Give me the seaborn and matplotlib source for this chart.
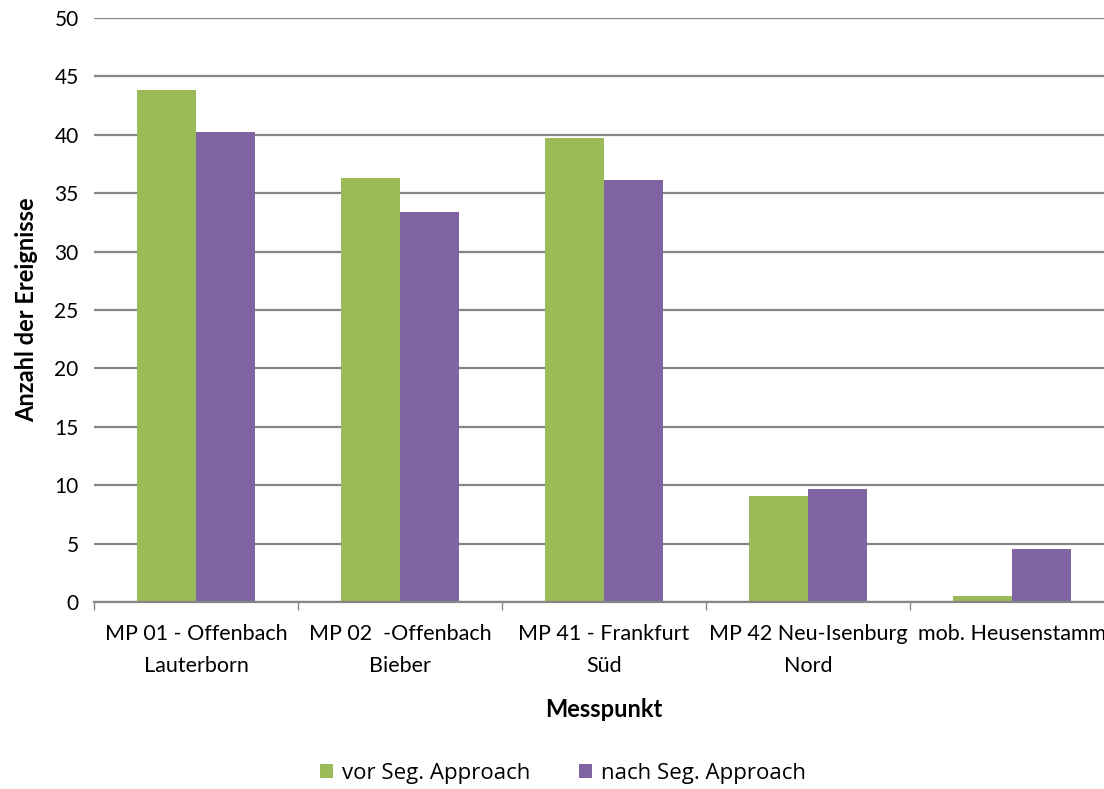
import pandas as pd
import matplotlib.pyplot as plt
import seaborn as sns

sns.set_theme(style='white', rc={'text.color': 'black', 'axes.labelcolor': 'black'})
plt.rcParams['font.family'] = ['Lato', 'DejaVu Sans']

messpunkte = ['MP 01 - Offenbach\nLauterborn', 'MP 02  -Offenbach\nBieber', 'MP 41 - Frankfurt\nSüd',
              'MP 42 Neu-Isenburg\nNord', 'mob. Heusenstamm']
vor = [43.8, 36.3, 39.7, 9.1, 0.5]
nach = [40.2, 33.4, 36.1, 9.7, 4.5]
series = ['vor Seg. Approach', 'nach Seg. Approach']

df = pd.DataFrame({'Messpunkt': messpunkte * 2,
                   'Anzahl': vor + nach,
                   'Serie': [series[0]] * 5 + [series[1]] * 5})

fig = plt.figure(figsize=(11.04, 7.89), dpi=100)
ax = fig.add_axes([94 / 1104, (789 - 602) / 789, (1114 - 94) / 1104, 584 / 789])
ax.set_axisbelow(True)
ax.yaxis.grid(True, color='#868686', linewidth=1.6)

sns.barplot(data=df, x='Messpunkt', y='Anzahl', hue='Serie', palette=['#9BBB59', '#8064A2'],
            width=0.58, gap=0, saturation=1, linewidth=0, ax=ax, legend=True)

ax.set_ylim(0, 50)
ax.set_yticks(range(0, 51, 5))
ax.set_xlim(-0.5, 4.5)
for s in ['top', 'right', 'left']:
    ax.spines[s].set_visible(False)
ax.spines['bottom'].set_color('#868686')
ax.spines['bottom'].set_linewidth(1.6)

ax.set_xticks([i - 0.5 for i in range(6)], minor=True)
ax.tick_params(axis='x', which='minor', length=6, width=1, color='#868686', bottom=True)
ax.tick_params(axis='x', which='major', length=0, pad=16, labelsize=15.5, labelcolor='black')
ax.tick_params(axis='y', length=0, pad=11, labelsize=15, labelcolor='black')
for t in ax.get_xticklabels():
    t.set_linespacing(1.75)

ax.set_xlabel('Messpunkt', fontsize=17, fontweight='bold', labelpad=16)
ax.set_ylabel('Anzahl der Ereignisse', fontsize=17, fontweight='bold', labelpad=12)

handles, labels = ax.get_legend_handles_labels()
ax.get_legend().remove()
fig.legend(handles, labels, loc='center', bbox_to_anchor=(563 / 1104, 1 - 773 / 789), ncol=2,
           frameon=False, handlelength=0.6, handleheight=0.6, handletextpad=0.4, columnspacing=2.2,
           prop={'family': 'Open Sans', 'size': 16})

plt.savefig('out.png', dpi=100)
